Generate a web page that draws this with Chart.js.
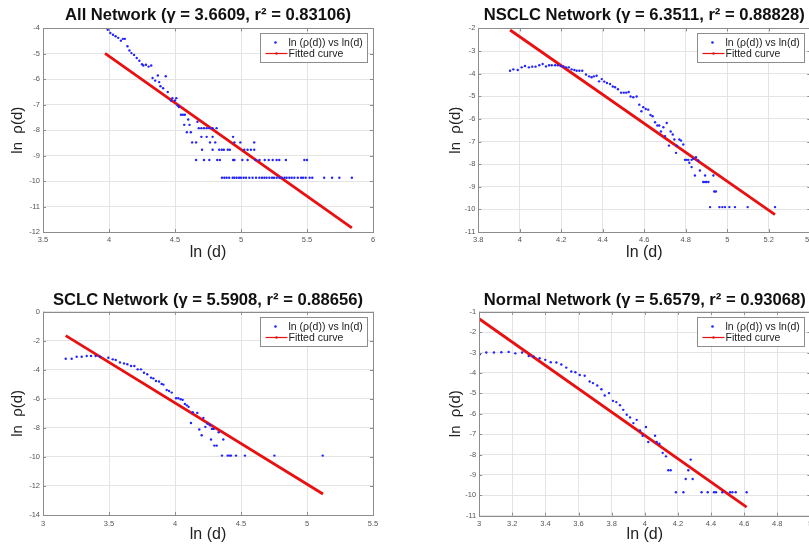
<!DOCTYPE html>
<html>
<head>
<meta charset="utf-8">
<script src="https://cdn.jsdelivr.net/npm/chart.js@4.4.1/dist/chart.umd.min.js"></script>
<style>
  html, body { margin: 0; padding: 0; background: #fff; }
  body { width: 809px; height: 546px; overflow: hidden; position: relative; }
  canvas { position: absolute; }
</style>
</head>
<body>
<canvas id="allChart" width="404" height="272" style="left:0;top:0"></canvas>
<canvas id="nsclcChart" width="390" height="272" style="left:438px;top:0"></canvas>
<canvas id="sclcChart" width="404" height="264" style="left:0;top:282px"></canvas>
<canvas id="normalChart" width="390" height="264" style="left:438px;top:282px"></canvas>
<script>
// --- данные: All Network ---
const allX = [3.97, 3.99, 4.01, 4.03, 4.05, 4.07, 4.09, 4.105, 4.12, 4.14, 4.155, 4.17, 4.19, 4.21, 4.23, 4.25, 4.26, 4.28, 4.30, 4.32,
    4.33, 4.35, 4.37, 4.38, 4.39, 4.41, 4.43, 4.445, 4.47, 4.48, 4.50, 4.51, 4.52, 4.53,
    4.545, 4.56, 4.575, 4.60, 4.67, 4.57, 4.61,
    4.68, 4.70, 4.72, 4.74, 4.76, 4.785, 4.815, 4.59, 4.62,
    4.70, 4.74, 4.785, 4.94,
    4.63, 4.66, 4.765, 4.805, 4.95, 4.995, 5.10,
    4.705, 4.785, 4.835, 4.855, 4.87, 4.90, 4.915, 5.025, 5.05, 5.075, 5.10,
    4.66, 4.72, 4.76, 4.82, 4.84, 4.94, 4.95, 5.01, 5.05, 5.11, 5.14, 5.18, 5.21, 5.24, 5.27, 5.29, 5.34, 5.48, 5.50,
    4.856, 4.874, 4.891, 4.91, 4.937, 4.95, 4.967, 4.985, 5.0, 5.02, 5.038, 5.063, 5.088, 5.114, 5.139, 5.159, 5.177, 5.194,
    5.215, 5.235, 5.25, 5.27, 5.29, 5.31, 5.33, 5.346, 5.366, 5.384, 5.404, 5.43, 5.455, 5.47, 5.49, 5.52, 5.54, 5.63, 5.69, 5.745, 5.84];
const allY = [-3.98, -4.05, -4.18, -4.25, -4.31, -4.37, -4.48, -4.41, -4.41, -4.70, -4.87, -4.97, -5.04, -5.16, -5.27, -5.41, -5.46, -5.43, -5.50, -5.46,
    -5.95, -6.05, -5.85, -6.11, -6.27, -6.35, -5.88, -6.50, -6.83, -6.74, -6.83, -6.74, -7.03, -7.09,
    -7.39, -7.39, -7.39, -7.58, -7.67, -7.79, -7.79,
    -7.92, -7.92, -7.92, -7.92, -7.92, -7.92, -7.92, -8.08, -8.08,
    -8.26, -8.26, -8.26, -8.26,
    -8.48, -8.48, -8.48, -8.48, -8.48, -8.48, -8.48,
    -8.77, -8.77, -8.77, -8.77, -8.77, -8.77, -8.77, -8.77, -8.77, -8.77, -8.77,
    -9.17, -9.17, -9.17, -9.17, -9.17, -9.17, -9.17, -9.17, -9.17, -9.17, -9.17, -9.17, -9.17, -9.17, -9.17, -9.17, -9.17, -9.17, -9.17,
    -9.87, -9.87, -9.87, -9.87, -9.87, -9.87, -9.87, -9.87, -9.87, -9.87, -9.87, -9.87, -9.87, -9.87, -9.87, -9.87, -9.87, -9.87,
    -9.87, -9.87, -9.87, -9.87, -9.87, -9.87, -9.87, -9.87, -9.87, -9.87, -9.87, -9.87, -9.87, -9.87, -9.87, -9.87, -9.87, -9.87, -9.87, -9.87, -9.87];
const allFitX = [3.97, 5.84];
const allFitY = [-4.98, -11.84];
const allXTicks = [3.5, 4, 4.5, 5, 5.5, 6];
const allYTicks = [-12, -11, -10, -9, -8, -7, -6, -5, -4];

// --- NSCLC Network ---
const nsclcX = [3.953, 3.969, 3.990, 4.009, 4.025, 4.044, 4.060, 4.076, 4.094, 4.110, 4.126, 4.141, 4.154, 4.170, 4.183, 4.197, 4.210,
    4.223, 4.236, 4.250, 4.263, 4.274, 4.287, 4.301, 4.319, 4.334, 4.346, 4.357, 4.370, 4.382, 4.395, 4.407, 4.420, 4.435, 4.448,
    4.459, 4.473, 4.488, 4.501, 4.513, 4.525, 4.534, 4.547, 4.563, 4.576, 4.586, 4.595, 4.607, 4.619, 4.63, 4.64,
    4.652, 4.663, 4.672, 4.692, 4.708, 4.680, 4.700, 4.727, 4.737, 4.745, 4.719, 4.756, 4.769, 4.777, 4.788, 4.753, 4.796, 4.804,
    4.812, 4.817, 4.828, 4.836, 4.849, 4.860, 4.828, 4.868, 4.844, 4.893, 4.933, 4.884, 4.893, 4.900, 4.909, 4.937, 4.945,
    4.917, 4.962, 4.976, 4.989, 5.010, 5.037, 5.098, 5.230];
const nsclcY = [-3.87, -3.81, -3.84, -3.72, -3.66, -3.72, -3.69, -3.69, -3.63, -3.57, -3.68, -3.63, -3.63, -3.63, -3.63, -3.66, -3.68,
    -3.72, -3.72, -3.81, -3.84, -3.87, -3.87, -3.87, -4.04, -4.12, -4.16, -4.12, -4.09, -4.34, -4.24, -4.35, -4.41, -4.46, -4.57,
    -4.60, -4.69, -4.84, -4.84, -4.84, -4.81, -5.01, -5.04, -5.01, -5.37, -5.66, -5.48, -5.56, -5.59, -5.83, -5.88,
    -6.15, -6.29, -6.29, -6.37, -6.18, -6.56, -6.76, -6.56, -6.69, -6.91, -7.18, -7.18, -6.91, -6.96, -7.13, -7.50, -7.81, -7.81,
    -7.81, -7.94, -7.81, -7.76, -7.69, -7.84, -8.13, -8.28, -8.50, -8.50, -8.50, -8.79, -8.79, -8.79, -8.79, -9.21, -9.21,
    -9.90, -9.90, -9.90, -9.90, -9.90, -9.90, -9.90, -9.90];
const nsclcFitX = [3.953, 5.23];
const nsclcFitY = [-2.07, -10.23];
const nsclcXTicks = [3.8, 4, 4.2, 4.4, 4.6, 4.8, 5, 5.2, 5.4];
const nsclcYTicks = [-11, -10, -9, -8, -7, -6, -5, -4, -3, -2];

// --- SCLC Network ---
const sclcX = [3.172, 3.217, 3.255, 3.293, 3.331, 3.364, 3.399, 3.432, 3.495, 3.528, 3.551, 3.583, 3.614, 3.639, 3.667, 3.692, 3.717,
    3.742, 3.765, 3.790, 3.818, 3.836, 3.856, 3.879, 3.899, 3.912, 3.937, 3.955, 3.975, 4.008, 4.025, 4.043, 4.058, 4.075, 4.09,
    4.103, 4.134, 4.169, 4.121, 4.215, 4.230, 4.247, 4.265, 4.280, 4.293, 4.184, 4.202, 4.273, 4.331, 4.366, 4.298, 4.316,
    4.356, 4.399, 4.412, 4.424, 4.462, 4.530, 4.753, 5.119];
const sclcY = [-3.24, -3.24, -3.10, -3.10, -3.05, -3.05, -3.05, -3.10, -3.17, -3.28, -3.33, -3.49, -3.56, -3.62, -3.74, -3.74, -3.97,
    -3.97, -4.20, -4.31, -4.54, -4.59, -4.77, -4.81, -4.97, -5.02, -5.39, -5.46, -5.57, -5.96, -5.96, -6.03, -6.07, -6.35, -6.45,
    -6.55, -6.92, -6.97, -7.66, -7.31, -7.93, -7.72, -7.82, -8.07, -8.07, -8.11, -8.51, -8.80, -8.30, -8.80, -9.22, -9.22,
    -9.91, -9.91, -9.91, -9.91, -9.91, -9.91, -9.91, -9.91];
const sclcFitX = [3.172, 5.121];
const sclcFitY = [-1.65, -12.55];
const sclcXTicks = [3, 3.5, 4, 4.5, 5, 5.5];
const sclcYTicks = [-14, -12, -10, -8, -6, -4, -2, 0];

// --- Normal Network ---
const normalX = [3.003, 3.043, 3.089, 3.134, 3.178, 3.218, 3.259, 3.299, 3.329, 3.365, 3.399, 3.432, 3.466, 3.496, 3.526, 3.556,
    3.581, 3.607, 3.637, 3.667, 3.687, 3.713, 3.738, 3.758, 3.784, 3.808, 3.828, 3.850, 3.870, 3.891, 3.911, 3.931, 3.951,
    3.971, 3.987, 4.007, 4.021, 4.062, 4.072, 4.088, 4.108, 4.128, 4.142, 4.156, 4.188, 4.233, 4.247, 4.263, 4.277, 4.289,
    4.343, 4.380, 4.418, 4.430, 4.468, 4.515, 4.529, 4.549, 4.615];
const normalY = [-3.09, -3.00, -3.00, -2.99, -2.97, -3.04, -3.00, -3.17, -3.20, -3.28, -3.36, -3.48, -3.49, -3.59, -3.74, -3.93,
    -3.97, -4.10, -4.14, -4.42, -4.50, -4.62, -4.80, -5.11, -4.99, -5.37, -5.43, -5.58, -5.81, -6.05, -6.18, -6.46, -6.30,
    -6.82, -7.08, -6.65, -7.39, -7.08, -7.39, -7.47, -7.92, -8.09, -8.77, -8.77, -9.85, -9.85, -9.20, -8.77, -8.25, -9.20,
    -9.85, -9.85, -9.85, -9.85, -9.85, -9.85, -9.85, -9.85, -9.85];
const normalFitX = [2.995, 4.615];
const normalFitY = [-1.32, -10.58];
const normalXTicks = [3, 3.2, 3.4, 3.6, 3.8, 4, 4.2, 4.4, 4.6, 4.8, 5];
const normalYTicks = [-11, -10, -9, -8, -7, -6, -5, -4, -3, -2, -1];

const FONT = '"Liberation Sans", Arial, Helvetica, sans-serif';
const BLUE = '#2323ff';
const RED = '#e81010';
const GRID = '#e4e4e4';

// рамка с внутренними засечками и легенда, как в MATLAB
const framePlugin = {
    id: 'frame',
    afterDraw(chart) {
        const { ctx, chartArea: a, scales } = chart;
        ctx.save();
        ctx.strokeStyle = '#8c8c8c';
        ctx.lineWidth = 1;
        ctx.strokeRect(Math.round(a.left) + 0.5, Math.round(a.top) + 0.5,
            Math.round(a.right - a.left), Math.round(a.bottom - a.top));
        ctx.beginPath();
        scales.x.ticks.forEach(t => {
            const px = Math.round(scales.x.getPixelForValue(t.value)) + 0.5;
            ctx.moveTo(px, a.bottom); ctx.lineTo(px, a.bottom - 3);
            ctx.moveTo(px, a.top); ctx.lineTo(px, a.top + 3);
        });
        scales.y.ticks.forEach(t => {
            const py = Math.round(scales.y.getPixelForValue(t.value)) + 0.5;
            ctx.moveTo(a.left, py); ctx.lineTo(a.left + 3, py);
            ctx.moveTo(a.right, py); ctx.lineTo(a.right - 3, py);
        });
        ctx.stroke();

        // легенда
        const ds = chart.data.datasets;
        const w = 107, h = 29;
        const bx = Math.round(a.right - 6 - w) + 0.5;
        const by = Math.round(a.top + 5) + 0.5;
        ctx.fillStyle = '#fff';
        ctx.fillRect(bx, by, w, h);
        ctx.strokeStyle = '#8c8c8c';
        ctx.strokeRect(bx, by, w, h);

        ctx.fillStyle = ds[0].backgroundColor;
        ctx.beginPath();
        ctx.arc(bx + 15, by + 9, 1.3, 0, Math.PI * 2);
        ctx.fill();

        ctx.strokeStyle = ds[1].borderColor;
        ctx.lineWidth = 1.2;
        ctx.beginPath();
        ctx.moveTo(bx + 5, by + 20);
        ctx.lineTo(bx + 27, by + 20);
        ctx.stroke();
        ctx.fillStyle = ds[1].borderColor;
        ctx.beginPath();
        ctx.arc(bx + 16, by + 20, 1.2, 0, Math.PI * 2);
        ctx.fill();

        ctx.fillStyle = '#222';
        ctx.font = '10.5px ' + FONT;
        ctx.textBaseline = 'middle';
        ctx.textAlign = 'left';
        ctx.fillText(ds[0].label, bx + 28, by + 9.5);
        ctx.fillText(ds[1].label, bx + 28, by + 20.5);
        ctx.restore();
    }
};

function toPoints(xs, ys) {
    return xs.map((v, i) => ({ x: v, y: ys[i] }));
}

function drawPanel(id, p) {
    const ctx = document.getElementById(id).getContext('2d');
    return new Chart(ctx, {
        type: 'scatter',
        data: {
            datasets: [{
                label: 'ln (ρ(d)) vs ln(d)',
                data: toPoints(p.x, p.y),
                backgroundColor: BLUE,
                borderColor: BLUE,
                borderWidth: 0,
                pointRadius: 1.2,
                pointHoverRadius: 1.2
            }, {
                label: 'Fitted curve',
                data: toPoints(p.fitX, p.fitY),
                showLine: true,
                fill: false,
                borderColor: RED,
                backgroundColor: RED,
                borderWidth: 2.8,
                pointRadius: 0
            }]
        },
        options: {
            responsive: false,
            animation: false,
            events: [],
            layout: { padding: { left: 0, right: p.padRight, top: 0, bottom: 0 } },
            plugins: {
                legend: { display: false },
                tooltip: { enabled: false },
                title: {
                    display: true,
                    text: p.title,
                    fullSize: false,
                    color: '#111',
                    font: { family: FONT, size: 16.6, weight: 'bold' },
                    padding: { top: p.titleTop, bottom: p.titleBottom }
                }
            },
            scales: {
                x: {
                    type: 'linear',
                    min: p.xTicks[0],
                    max: p.xTicks[p.xTicks.length - 1],
                    afterBuildTicks: s => { s.ticks = p.xTicks.map(v => ({ value: v })); },
                    afterFit: s => { s.height = p.xHeight; },
                    grid: { color: GRID, drawTicks: false },
                    border: { display: false },
                    ticks: {
                        font: { family: FONT, size: 7.5 },
                        color: '#555',
                        padding: p.xTickPad,
                        maxRotation: 0,
                        autoSkip: false,
                        callback: v => String(v)
                    },
                    title: {
                        display: true,
                        text: 'ln (d)',
                        color: '#222',
                        font: { family: FONT, size: 16 },
                        padding: { top: 0, bottom: p.xTitlePad }
                    }
                },
                y: {
                    type: 'linear',
                    min: p.yTicks[0],
                    max: p.yTicks[p.yTicks.length - 1],
                    afterBuildTicks: s => { s.ticks = p.yTicks.map(v => ({ value: v })); },
                    afterFit: s => { s.width = p.yWidth; },
                    grid: { color: GRID, drawTicks: false },
                    border: { display: false },
                    ticks: {
                        font: { family: FONT, size: 7.5 },
                        color: '#555',
                        padding: 3,
                        autoSkip: false,
                        callback: v => String(v)
                    },
                    title: {
                        display: true,
                        text: 'ln  ρ(d)',
                        color: '#222',
                        font: { family: FONT, size: 15 },
                        padding: { top: p.yTitlePad, bottom: 0 }
                    }
                }
            }
        },
        plugins: [framePlugin]
    });
}

drawPanel('allChart', {
    x: allX, y: allY, fitX: allFitX, fitY: allFitY, xTicks: allXTicks, yTicks: allYTicks,
    title: 'All Network (γ = 3.6609, r² = 0.83106)',
    padRight: 31, titleTop: 5, titleBottom: 3.5, xHeight: 40, xTickPad: 3, xTitlePad: 10, yWidth: 43, yTitlePad: 9
});
drawPanel('nsclcChart', {
    x: nsclcX, y: nsclcY, fitX: nsclcFitX, fitY: nsclcFitY, xTicks: nsclcXTicks, yTicks: nsclcYTicks,
    title: 'NSCLC Network (γ = 6.3511, r² = 0.88828)',
    padRight: 17.7, titleTop: 5, titleBottom: 3.5, xHeight: 40, xTickPad: 3, xTitlePad: 10, yWidth: 40.3, yTitlePad: 8.5
});
drawPanel('sclcChart', {
    x: sclcX, y: sclcY, fitX: sclcFitX, fitY: sclcFitY, xTicks: sclcXTicks, yTicks: sclcYTicks,
    title: 'SCLC Network (γ = 5.5908, r² = 0.88656)',
    padRight: 31, titleTop: 8, titleBottom: 1.8, xHeight: 31, xTickPad: 4, xTitlePad: 1.4, yWidth: 43, yTitlePad: 9
});
drawPanel('normalChart', {
    x: normalX, y: normalY, fitX: normalFitX, fitY: normalFitY, xTicks: normalXTicks, yTicks: normalYTicks,
    title: 'Normal Network (γ = 5.6579, r² = 0.93068)',
    padRight: 17.6, titleTop: 8, titleBottom: 1.8, xHeight: 30.3, xTickPad: 4, xTitlePad: 1.4, yWidth: 41.2, yTitlePad: 8.5
});
</script>
</body>
</html>
